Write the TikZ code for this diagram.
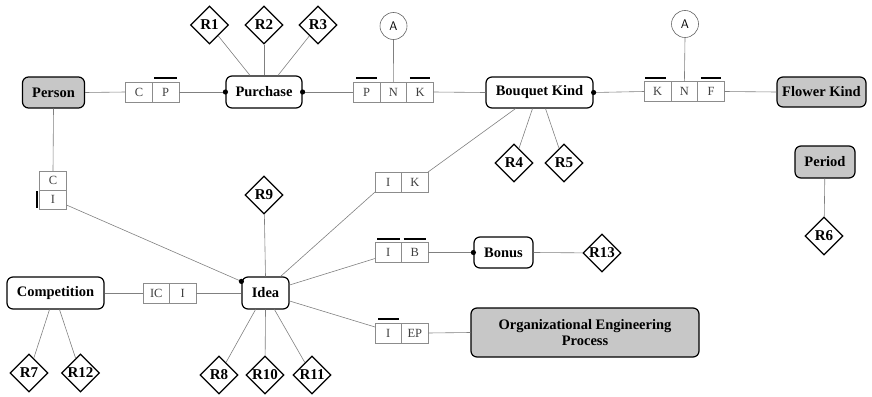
\documentclass[tikz,border=0pt]{standalone}
\usepackage{fontspec}
\setmainfont{Liberation Serif}
\usetikzlibrary{shapes.geometric}
\begin{document}
\begin{tikzpicture}[x=1pt,y=-1pt,
  entity/.style={draw=black, line width=1.2pt, rounded corners=6pt, fill=white,
    inner sep=0pt, align=center, font=\fontsize{14.5}{16.5}\selectfont\bfseries},
  strong/.style={entity, fill=black!22},
  rel/.style={diamond, draw=black, line width=1.2pt, fill=white, minimum width=38pt,
    minimum height=38pt, inner sep=0pt, font=\fontsize{15}{16}\selectfont\bfseries},
  cell/.style={draw=black!45, line width=0.6pt, minimum width=26.7pt, minimum height=20pt,
    inner sep=0pt, outer sep=0pt, font=\fontsize{12.5}{13}\selectfont, text=black!75},
  link/.style={draw=black!50, line width=0.6pt},
  bar/.style={line width=2pt, black},
  anc/.style={circle, draw=black!60, line width=0.6pt, minimum size=27pt, inner sep=0pt,
    font=\sffamily\fontsize{12.5}{13}\selectfont},
  joint/.style={fill=black}
]
\useasboundingbox (0,0) rectangle (872,396);

% entities
\node[strong, minimum width=62pt, minimum height=31pt] (person) at (53.5,92.5) {Person};
\node[entity, minimum width=76pt, minimum height=32pt] (purchase) at (264,92) {Purchase};
\node[entity, minimum width=107pt, minimum height=31pt] (bouquet) at (539.5,92.5) {Bouquet Kind};
\node[strong, minimum width=89pt, minimum height=30pt] (flower) at (821.5,92) {Flower Kind};
\node[strong, minimum width=60pt, minimum height=32pt] (period) at (825,162) {Period};
\node[entity, minimum width=47pt, minimum height=32pt] (idea) at (265.5,293) {Idea};
\node[entity, minimum width=97pt, minimum height=32pt] (competition) at (55.5,293) {Competition};
\node[entity, minimum width=59pt, minimum height=31pt] (bonus) at (503.5,252.5) {Bonus};
\node[strong, minimum width=228pt, minimum height=49pt] (oep) at (585,332.5)
  {Organizational Engineering\\Process};

% relationships
\node[rel] (r1) at (209.5,25) {R1};
\node[rel] (r2) at (264,25) {R2};
\node[rel] (r3) at (318,25) {R3};
\node[rel] (r4) at (514,163) {R4};
\node[rel] (r5) at (564,163) {R5};
\node[rel] (r6) at (824,236) {R6};
\node[rel] (r7) at (29,373) {R7};
\node[rel] (r8) at (219,375) {R8};
\node[rel] (r9) at (264,195) {R9};
\node[rel] (r10) at (265,375) {R10};
\node[rel] (r11) at (312,375) {R11};
\node[rel] (r12) at (80.5,373) {R12};
\node[rel] (r13) at (602,253) {R13};

% key cells
\node[cell] (cpC) at (139,92) {C};
\node[cell, anchor=west] (cpP) at (cpC.east) {P};

\node[cell] (pnkP) at (366.7,92) {P};
\node[cell, anchor=west] (pnkN) at (pnkP.east) {N};
\node[cell, anchor=west] (pnkK) at (pnkN.east) {K};

\node[cell] (knfK) at (657.7,91.5) {K};
\node[cell, anchor=west] (knfN) at (knfK.east) {N};
\node[cell, anchor=west] (knfF) at (knfN.east) {F};

\node[cell, minimum width=26.5pt] (ikI) at (388.3,182) {I};
\node[cell, minimum width=26.5pt, anchor=west] (ikK) at (ikI.east) {K};

\node[cell, minimum width=26.5pt] (ibI) at (388.3,252.5) {I};
\node[cell, minimum width=26.5pt, anchor=west] (ibB) at (ibI.east) {B};

\node[cell, minimum width=26.5pt] (iepI) at (388.3,333) {I};
\node[cell, minimum width=26.5pt, anchor=west] (iepEP) at (iepI.east) {EP};

\node[cell, minimum width=26.5pt] (icIC) at (156.3,293) {IC};
\node[cell, minimum width=26.5pt, anchor=west] (icI) at (icIC.east) {I};

\node[cell, minimum width=27pt, minimum height=19pt] (ciC) at (53,180.5) {C};
\node[cell, minimum width=27pt, minimum height=19pt, anchor=north] (ciI) at (ciC.south) {I};

% identifier bars
\draw[bar] ([xshift=2pt,yshift=4pt]cpP.north west) -- ([xshift=-2pt,yshift=4pt]cpP.north east);
\draw[bar] ([xshift=3pt,yshift=4pt]pnkP.north west) -- ([xshift=-3pt,yshift=4pt]pnkP.north east);
\draw[bar] ([xshift=3pt,yshift=4pt]pnkK.north west) -- ([xshift=-3pt,yshift=4pt]pnkK.north east);
\draw[bar] ([xshift=1pt,yshift=4pt]knfK.north west) -- ([xshift=-5pt,yshift=4pt]knfK.north east);
\draw[bar] ([xshift=3pt,yshift=4pt]knfF.north west) -- ([xshift=-3pt,yshift=4pt]knfF.north east);
\draw[bar] ([xshift=2pt,yshift=4pt]ibI.north west) -- ([xshift=-2pt,yshift=4pt]ibI.north east);
\draw[bar] ([xshift=2pt,yshift=4pt]ibB.north west) -- ([xshift=-2pt,yshift=4pt]ibB.north east);
\draw[bar] ([xshift=3pt,yshift=4pt]iepI.north west) -- ([xshift=-3pt,yshift=4pt]iepI.north east);
\draw[bar] ([xshift=-3pt,yshift=-1pt]ciI.north west) -- ([xshift=-3pt,yshift=1pt]ciI.south west);

% anchor circles
\node[anc] (a1) at (393.5,26) {A};
\node[anc] (a2) at (685,24) {A};

% connectors
\draw[link] (person.east) -- (cpC.west);
\draw[link] (cpP.east) -- (purchase.west);
\draw[link] (purchase.east) -- (pnkP.west);
\draw[link] (pnkK.east) -- (bouquet.west);
\draw[link] (bouquet.east) -- (knfK.west);
\draw[link] (knfF.east) -- (flower.west);
\draw[link] (a1.south) -- (pnkN.north);
\draw[link] (a2.south) -- (knfN.north);

\draw[link] (r1) -- ([xshift=-14pt]purchase.north);
\draw[link] (r2) -- (purchase.north);
\draw[link] (r3) -- ([xshift=14pt]purchase.north);

\draw[link] ([xshift=-7pt]bouquet.south) -- (r4);
\draw[link] ([xshift=6pt]bouquet.south) -- (r5);
\draw[link] ([xshift=-24pt]bouquet.south) -- (ikK.north east);
\draw[link] (ikI.south west) -- ([xshift=-9pt]idea.north east);

\draw[link] (period) -- (r6);

\coordinate (ideaJ) at ([yshift=-5pt]idea.north west);
\draw[link] (person.south) -- (ciC.north);
\draw[link] ([yshift=4pt]ciI.south east) -- (ideaJ);

\draw[link] (r9) -- (idea.north);
\draw[link] (competition.east) -- (icIC.west);
\draw[link] (icI.east) -- (idea.west);
\draw[link] ([xshift=-6pt]competition.south) -- (r7);
\draw[link] ([xshift=4pt]competition.south) -- (r12);
\draw[link] ([xshift=-10pt]idea.south) -- (r8);
\draw[link] (idea.south) -- (r10);
\draw[link] ([xshift=9pt]idea.south) -- (r11);

\draw[link] ([yshift=8pt]idea.east) -- ([yshift=4pt]ibI.south west);
\draw[link] (ibB.east) -- (bonus.west);
\draw[link] (bonus.east) -- (r13);
\draw[link] ([yshift=-8pt]idea.east) -- ([yshift=-4pt]iepI.north west);
\draw[link] (iepEP.east) -- (oep.west);

% participation joints
\fill[joint] (purchase.west) circle (2.6pt);
\fill[joint] (purchase.east) circle (2.6pt);
\fill[joint] (bouquet.east) circle (2.6pt);
\fill[joint] (ideaJ) circle (2.6pt);
\fill[joint] (bonus.west) circle (2.6pt);
\end{tikzpicture}
\end{document}
